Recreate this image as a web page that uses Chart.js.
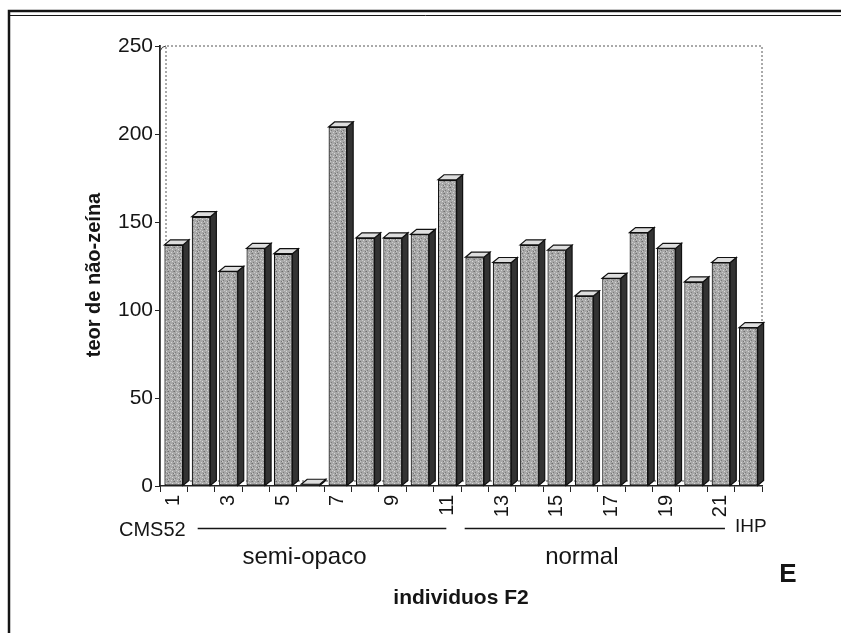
<!DOCTYPE html>
<html lang="pt">
<head>
  <meta charset="UTF-8" />
  <title>teor de não-zeína - indivíduos F2</title>
  <script src="https://cdn.jsdelivr.net/npm/chart.js"></script>
  <style>
    html, body { margin: 0; padding: 0; background: #fff; }
    #wrap { position: relative; width: 841px; height: 633px; }
  </style>
</head>
<body>
  <div id="wrap"><canvas id="chart" width="841" height="633"></canvas></div>

  <script>
    // indivíduos F2 (1 = CMS52 ... 22 = IHP)
    const categories = ['1', '2', '3', '4', '5', '6', '7', '8', '9', '10', '11',
                        '12', '13', '14', '15', '16', '17', '18', '19', '20', '21', '22'];
    // teor de não-zeína
    const values = [137, 153, 122, 135, 132, 1, 204, 141, 141, 143, 174,
                    130, 127, 137, 134, 108, 118, 144, 135, 116, 127, 90];
    const yTicks = [0, 50, 100, 150, 200, 250];
    const groupNames = ['semi-opaco', 'normal'];
    const endNames = ['CMS52', 'IHP'];

    const FONT = '"Liberation Sans", Arial, sans-serif';
    const DX = 6, DY = 5;

    // speckled grey like the scanned bars (fixed pattern, no randomness)
    function speckle() {
      const c = document.createElement('canvas');
      c.width = 6; c.height = 6;
      const g = c.getContext('2d');
      g.fillStyle = '#a8a8a8';
      g.fillRect(0, 0, 6, 6);
      const dots = [[0,1,'#6e6e6e'],[3,0,'#d4d4d4'],[1,4,'#7c7c7c'],[4,3,'#d8d8d8'],
                    [5,5,'#747474'],[2,2,'#cacaca'],[5,1,'#8a8a8a'],[0,5,'#cccccc']];
      dots.forEach(d => { g.fillStyle = d[2]; g.fillRect(d[0], d[1], 1, 1); });
      return g.createPattern(c, 'repeat');
    }

    // side and top faces of the 3D bars, taken from the bar elements
    const depthBars = {
      id: 'depthBars',
      afterDatasetsDraw(chart) {
        const ctx = chart.ctx;
        chart.getDatasetMeta(0).data.forEach(bar => {
          const l = bar.x - bar.width / 2, r = bar.x + bar.width / 2;
          const t = bar.y, b = bar.base;
          ctx.save();
          ctx.lineWidth = 1.2;
          ctx.strokeStyle = '#111';
          ctx.fillStyle = '#333';
          ctx.beginPath();
          ctx.moveTo(r, t); ctx.lineTo(r + DX, t - DY); ctx.lineTo(r + DX, b - DY); ctx.lineTo(r, b);
          ctx.closePath(); ctx.fill(); ctx.stroke();
          ctx.fillStyle = '#dedede';
          ctx.beginPath();
          ctx.moveTo(l, t); ctx.lineTo(l + DX, t - DY); ctx.lineTo(r + DX, t - DY); ctx.lineTo(r, t);
          ctx.closePath(); ctx.fill(); ctx.stroke();
          ctx.restore();
        });
      }
    };

    // back walls, floor, frame and the annotation texts
    const decorations = {
      id: 'decorations',
      beforeDatasetsDraw(chart) {
        const { ctx, chartArea: a } = chart;
        ctx.save();
        ctx.strokeStyle = '#555';
        ctx.lineWidth = 1;
        ctx.setLineDash([2, 2]);
        ctx.beginPath();
        ctx.moveTo(a.left + DX, a.bottom - DY); ctx.lineTo(a.left + DX, a.top);
        ctx.lineTo(a.right, a.top); ctx.lineTo(a.right, a.bottom - DY);
        ctx.lineTo(a.left + DX, a.bottom - DY);
        ctx.stroke();
        ctx.setLineDash([]);
        ctx.strokeStyle = '#333';
        ctx.beginPath();
        ctx.moveTo(a.right, a.bottom - DY); ctx.lineTo(a.right - DX, a.bottom);
        ctx.moveTo(a.left, a.top + DY); ctx.quadraticCurveTo(a.left + 2, a.top, a.left + DX, a.top);
        ctx.stroke();
        ctx.restore();
      },
      afterDraw(chart) {
        const { ctx, scales } = chart;
        const xs = scales.x;
        ctx.save();
        ctx.fillStyle = '#151515';
        ctx.strokeStyle = '#151515';

        // outer frame of the figure
        ctx.lineWidth = 2.5;
        ctx.strokeRect(9, 11, 840, 630);
        ctx.lineWidth = 1;
        ctx.beginPath(); ctx.moveTo(10, 15.5); ctx.lineTo(841, 15.5); ctx.stroke();

        // y title
        ctx.save();
        ctx.translate(94, 275);
        ctx.rotate(-Math.PI / 2);
        ctx.font = 'bold 20px ' + FONT;
        ctx.textAlign = 'center';
        ctx.textBaseline = 'middle';
        ctx.fillText('teor de não-zeína', 0, 0);
        ctx.restore();

        // group lines under the category labels (labels "1", "11", "12", "21")
        const lineY = 528.5;
        const p1 = xs.getPixelForValue(0), p11 = xs.getPixelForValue(10);
        const p12 = xs.getPixelForValue(11), p21 = xs.getPixelForValue(20);
        ctx.lineWidth = 1.3;
        ctx.beginPath();
        ctx.moveTo(p1 + 24, lineY); ctx.lineTo(p11 - 1, lineY);
        ctx.moveTo(p12 - 10, lineY); ctx.lineTo(p21 + 4, lineY);
        ctx.stroke();

        ctx.textBaseline = 'middle';
        ctx.font = '20px ' + FONT;
        ctx.textAlign = 'right';
        ctx.fillText(endNames[0], p1 + 12, 530);
        ctx.font = '19px ' + FONT;
        ctx.textAlign = 'left';
        ctx.fillText(endNames[1], p21 + 14, 527);

        ctx.font = '24px ' + FONT;
        ctx.textAlign = 'center';
        ctx.fillText(groupNames[0], (p1 + p11) / 2 - 6, 557);
        ctx.fillText(groupNames[1], (p12 + p21) / 2 - 16, 557);

        ctx.font = 'bold 21px ' + FONT;
        ctx.fillText('individuos F2', 461, 598);

        ctx.font = 'bold 26px ' + FONT;
        ctx.fillText('E', 788, 575);
        ctx.restore();
      }
    };

    new Chart(document.getElementById('chart'), {
      type: 'bar',
      data: {
        labels: categories,
        datasets: [{
          data: values,
          backgroundColor: speckle(),
          borderColor: '#111',
          borderWidth: 1.2,
          borderSkipped: false,
          barPercentage: 0.68,
          categoryPercentage: 1
        }]
      },
      options: {
        responsive: false,
        animation: false,
        layout: { padding: { left: 0, right: 79, top: 46, bottom: 0 } },
        plugins: { legend: { display: false }, tooltip: { enabled: false } },
        scales: {
          x: {
            grid: { offset: true, drawOnChartArea: false, tickLength: 6, color: '#222', tickWidth: 1 },
            border: { color: '#222', width: 1.5 },
            ticks: {
              autoSkip: false,
              minRotation: 90,
              maxRotation: 90,
              padding: 3,
              color: '#151515',
              font: { family: FONT, size: 20 },
              callback: (v, i) => (i % 2 === 0 && i < 21 ? categories[i] : '')
            },
            afterFit: s => { s.height = 147; }
          },
          y: {
            min: yTicks[0],
            max: yTicks[yTicks.length - 1],
            afterBuildTicks: s => { s.ticks = yTicks.map(v => ({ value: v })); },
            grid: { drawOnChartArea: false, tickLength: 5, color: '#222' },
            border: { color: '#222', width: 1.8 },
            ticks: { padding: 2, color: '#151515', font: { family: FONT, size: 21 } },
            afterFit: s => { s.width = 160; }
          }
        }
      },
      plugins: [decorations, depthBars]
    });
  </script>
</body>
</html>
